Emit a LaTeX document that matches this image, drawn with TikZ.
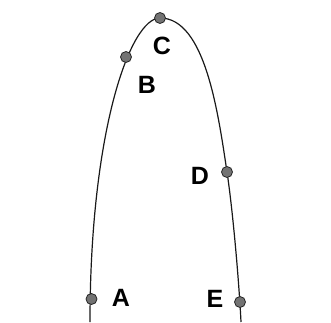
\documentclass[tikz,border=0pt]{standalone}
\usepackage{fontspec}
\setmainfont{Liberation Sans}
\begin{document}
\begin{tikzpicture}[x=1pt,y=1pt,
  dot/.style={circle,draw=black!85,line width=0.8pt,fill=black!55,inner sep=0pt,minimum size=11pt},
  lbl/.style={font=\bfseries\fontsize{25}{25}\selectfont,inner sep=0pt,text=black},
  curve/.style={line width=1.2pt,black!90}]
\useasboundingbox[fill=white] (0,0) rectangle (331,322);
\coordinate (bl) at (90,0);
\coordinate (br) at (241,0);
\coordinate (pA) at (91.5,23);
\coordinate (pB) at (126,265);
\coordinate (pC) at (160,304);
\coordinate (pD) at (227,150);
\coordinate (pE) at (240,20);
\draw[curve] (bl) .. controls (90,190) and (130,304) .. (pC)
  .. controls (205,304) and (218,210) .. (pD)
  .. controls (233,110) and (239,40) .. (br);
\node[dot] (A) at (pA) {};
\node[dot] (B) at (pB) {};
\node[dot] (C) at (pC) {};
\node[dot] (D) at (pD) {};
\node[dot] (E) at (pE) {};
\node[lbl] (lA) at (121,24) {A};
\node[lbl] (lB) at (147,237) {B};
\node[lbl] (lC) at (162,276) {C};
\node[lbl] (lD) at (200,146) {D};
\node[lbl] (lE) at (215,23) {E};
\end{tikzpicture}
\end{document}
